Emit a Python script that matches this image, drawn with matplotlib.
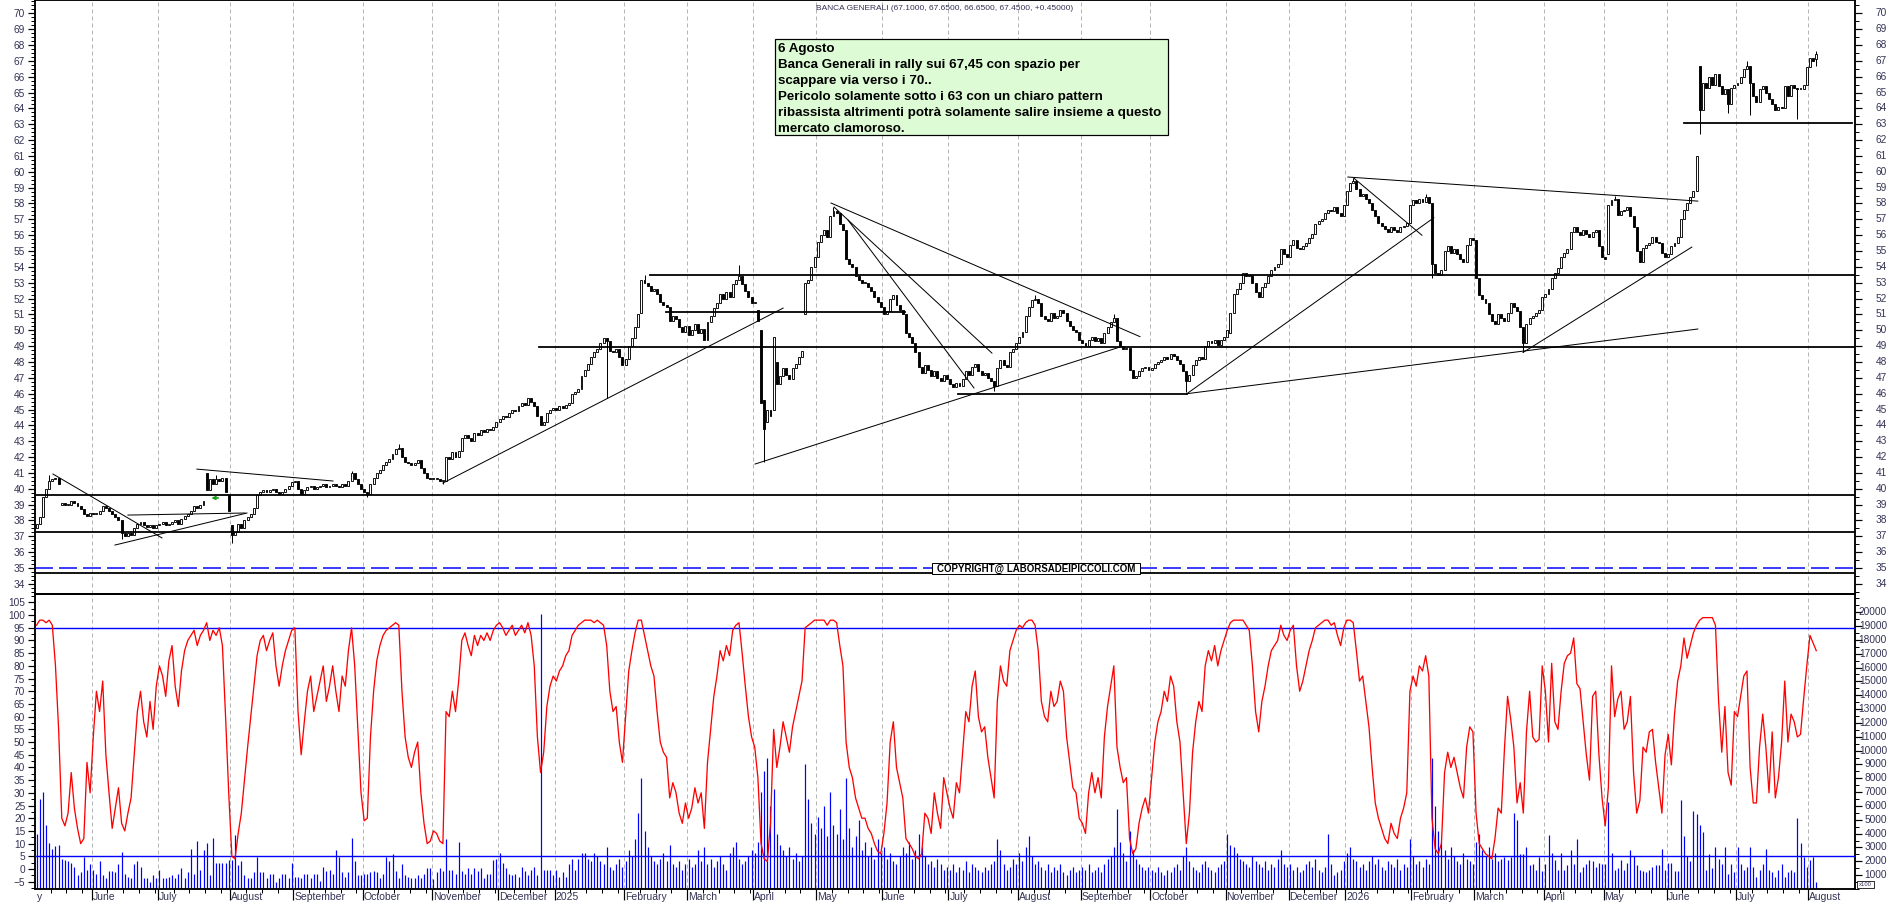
import numpy as np
import matplotlib.pyplot as plt
from matplotlib.patches import Rectangle
from matplotlib.ticker import MultipleLocator, FixedLocator
from matplotlib.transforms import blended_transform_factory

W, H, DPI = 1890, 902, 100
PX = 72.0 / DPI          # one pixel in points

plt.rcParams['font.family'] = ['Liberation Sans', 'DejaVu Sans']

# ---------------------------------------------------------------
# data (one entry per trading day)
# ---------------------------------------------------------------
closes = [
    37.8, 38.2, 39.5, 40.0, 40.5, 40.6, 40.7, 40.3, 39.1, 39.0,
    39.0, 39.2, 39.1, 38.9, 38.7, 38.4, 38.3, 38.5, 38.4, 38.4,
    38.6, 38.9, 38.8, 38.6, 38.4, 38.2, 38.0, 37.2, 37.0, 37.2,
    37.1, 37.5, 37.8, 37.9, 37.7, 37.6, 37.7, 37.5, 37.7, 37.8,
    37.9, 37.7, 37.8, 37.9, 38.0, 37.8, 38.1, 38.3, 38.4, 38.6,
    38.9, 38.8, 39.0, 39.2, 39.9, 40.6, 40.3, 40.6, 40.5, 40.7,
    39.8, 38.6, 37.1, 37.3, 37.8, 37.5, 38.0, 38.2, 38.4, 38.8,
    39.6, 39.8, 39.9, 39.8, 39.9, 40.0, 39.8, 39.7, 39.8, 40.0,
    40.2, 40.4, 40.5, 40.0, 39.7, 39.9, 40.1, 40.2, 40.0, 40.1,
    40.2, 40.3, 40.1, 40.2, 40.3, 40.2, 40.1, 40.3, 40.2, 40.5,
    41.0, 40.6, 40.3, 40.0, 39.8, 39.7, 40.3, 40.7, 41.0, 41.2,
    41.5, 41.7, 41.9, 42.2, 42.5, 42.6, 42.0, 41.7, 41.6, 41.5,
    41.6, 41.8, 41.3, 41.0, 40.7, 40.6, 40.6, 40.6, 40.5, 40.5,
    42.0, 41.9, 42.3, 42.0, 42.4, 43.2, 43.4, 43.2, 43.0, 43.5,
    43.4, 43.7, 43.6, 43.8, 43.7, 43.9, 44.2, 44.4, 44.6, 44.5,
    44.8, 45.0, 44.9, 45.2, 45.4, 45.3, 45.7, 45.5, 45.2, 44.6,
    44.0, 44.2, 44.8, 45.0, 45.1, 45.0, 45.2, 45.1, 45.3, 45.4,
    46.0, 46.1, 46.3, 47.1, 47.5, 47.9, 48.3, 48.6, 48.8, 49.2,
    49.5, 49.3, 48.7, 48.6, 48.8, 48.3, 47.8, 48.2, 49.0, 49.5,
    50.2, 51.0, 53.2, 53.0, 52.8, 52.5, 52.6, 52.3, 51.8, 51.6,
    51.5, 50.6, 50.9, 50.7, 50.2, 49.9, 50.3, 49.7, 50.0, 50.4,
    49.8, 50.1, 49.4, 50.5, 50.9, 51.4, 51.7, 52.3, 52.0, 52.4,
    52.1, 52.9, 53.2, 53.4, 52.9, 52.5, 52.1, 51.7, 51.7, 50.6,
    45.4, 43.8, 45.0, 44.6, 49.6, 46.6, 47.1, 47.6, 47.2, 46.9,
    47.6, 47.9, 48.3, 48.7, 53.0, 53.2, 54.0, 54.6, 55.6, 56.0,
    56.3, 55.9, 57.2, 57.5, 57.4, 56.7, 56.3, 54.5, 54.2, 54.0,
    53.4, 53.2, 53.0, 53.0, 52.7, 52.5, 52.1, 51.8, 51.5, 51.0,
    51.2, 52.0, 52.2, 51.6, 51.3, 51.0, 49.8, 49.6, 49.2, 48.6,
    47.7, 47.3, 47.8, 47.5, 47.1, 47.4, 47.0, 46.8, 47.2, 46.9,
    46.6, 46.4, 46.7, 46.5, 46.9, 47.4, 47.2, 47.7, 47.9, 47.4,
    47.2, 47.3, 47.0, 46.8, 46.5, 47.6, 48.1, 47.8, 47.7, 48.6,
    48.8, 49.2, 49.6, 49.9, 50.9, 51.5, 51.9, 52.0, 51.7, 50.9,
    50.7, 50.6, 51.1, 50.8, 50.9, 51.3, 51.1, 50.6, 50.3, 50.0,
    49.9, 49.4, 49.2, 49.0, 49.4, 49.6, 49.3, 49.5, 49.2, 49.8,
    50.2, 50.5, 50.8, 49.3, 49.0, 48.8, 48.9, 47.5, 47.0, 47.1,
    47.4, 47.6, 47.7, 47.5, 47.6, 47.9, 48.0, 48.1, 48.3, 48.2,
    48.5, 48.4, 48.1, 47.9, 47.4, 46.8, 47.2, 47.8, 48.1, 48.3,
    48.2, 49.0, 49.3, 49.2, 49.4, 49.1, 49.4, 49.6, 50.0, 51.1,
    52.3, 52.6, 53.0, 53.6, 53.4, 53.5, 53.0, 52.4, 52.1, 52.7,
    53.0, 53.4, 53.8, 54.0, 54.2, 55.1, 54.8, 54.6, 55.4, 55.7,
    55.2, 55.1, 55.3, 55.5, 55.8, 56.1, 56.7, 56.9, 57.0, 57.4,
    57.6, 57.5, 57.8, 57.4, 57.2, 57.9, 58.8, 59.3, 59.4, 58.9,
    58.5, 58.6, 58.3, 58.0, 57.6, 57.2, 56.8, 56.6, 56.4, 56.2,
    56.5, 56.3, 56.2, 56.5, 56.6, 56.8, 57.9, 58.2, 58.0, 58.3,
    58.1, 58.4, 58.0, 54.2, 53.6, 53.5, 53.8, 55.0, 55.3, 54.9,
    55.1, 54.8, 54.5, 54.3, 55.4, 55.8, 55.7, 53.3, 52.2, 52.0,
    51.7, 51.0, 50.6, 50.4, 51.0, 50.8, 50.6, 51.1, 51.7, 51.5,
    51.2, 50.2, 49.2, 50.4, 50.8, 50.9, 51.1, 51.3, 52.1, 52.3,
    52.6, 53.3, 53.6, 53.9, 54.6, 54.9, 55.1, 56.2, 56.5, 56.2,
    56.0, 56.3, 56.1, 55.9, 56.2, 56.3, 55.3, 54.6, 54.5, 57.9,
    58.2, 58.3, 57.3, 57.5, 57.6, 57.8, 57.2, 56.5, 55.0, 54.3,
    55.2, 55.4, 55.5, 55.9, 55.6, 55.5, 54.9, 54.6, 54.8, 55.3,
    55.5, 55.9, 57.0, 57.6, 58.0, 58.4, 58.8, 61.0, 63.9, 65.6,
    65.3, 66.0, 65.5, 66.2, 65.4, 64.9, 65.2, 64.3, 65.3, 65.5,
    65.6, 66.0, 66.5, 66.7, 65.6, 64.8, 64.4, 65.2, 65.4, 65.0,
    64.6, 64.3, 63.9, 64.1, 64.0, 65.4, 64.8, 65.5, 65.3, 65.2,
    65.2, 65.5, 66.6, 67.2, 67.0, 67.45,
]
first_open = 37.5
# opens that differ from the previous close (gaps)
gap_open = {8: 39.0, 54: 41.0, 61: 39.6, 62: 37.7, 130: 40.5, 192: 51.1,
            229: 51.3, 230: 50.0, 231: 45.6, 232: 44.2, 234: 45.0, 235: 48.0,
            244: 51.0, 379: 49.8, 443: 58.0, 499: 54.8, 527: 58.8, 528: 66.7,
            565: 67.1}
# visible wicks
wick_hi = {4: 40.9, 54: 41.0, 57: 40.9, 100: 41.1, 115: 42.8, 193: 53.5,
           223: 54.1, 253: 57.8, 317: 52.2, 342: 51.0, 418: 59.6, 441: 58.6,
           501: 58.5, 543: 67.0, 565: 67.65}
wick_lo = {27: 36.8, 62: 36.6, 105: 39.5, 129: 40.3, 181: 45.7, 231: 41.7,
           304: 46.2, 365: 46.1, 443: 53.3, 472: 48.6, 528: 62.4, 537: 63.7,
           544: 63.6, 559: 63.3, 565: 66.65}

# volume, in hundreds of the right-hand scale (which is itself x100)
volume = [
    40, 65, 70, 46, 33, 29, 31, 32, 22, 21,
    20, 19, 16, 10, 12, 23, 14, 18, 14, 11,
    20, 10, 8, 13, 13, 12, 18, 27, 11, 9,
    8, 18, 20, 16, 8, 8, 5, 10, 8, 14,
    8, 8, 9, 10, 8, 11, 15, 8, 12, 29,
    11, 35, 14, 28, 33, 10, 37, 19, 19, 19,
    19, 21, 21, 39, 17, 20, 10, 8, 8, 12,
    23, 12, 12, 8, 11, 11, 5, 8, 11, 11,
    8, 19, 9, 9, 8, 11, 11, 8, 11, 11,
    6, 16, 13, 14, 11, 28, 23, 12, 9, 12,
    37, 20, 10, 10, 11, 11, 12, 13, 12, 8,
    11, 23, 20, 25, 13, 8, 18, 10, 9, 8,
    8, 10, 8, 11, 15, 15, 7, 12, 15, 13,
    36, 14, 14, 11, 34, 13, 11, 15, 11, 15,
    13, 15, 8, 11, 11, 21, 22, 26, 19, 15,
    11, 10, 11, 9, 16, 13, 10, 14, 16, 10,
    199, 14, 14, 14, 10, 14, 9, 12, 9, 18,
    22, 14, 22, 26, 26, 22, 20, 26, 24,
    20, 18, 30, 16, 14, 18, 22, 16,
    20, 28, 24, 36, 55, 80, 42, 30, 24, 20, 18, 22, 26, 20, 32, 18, 16, 20, 14, 18,
    22, 16, 18, 28, 20, 30, 18, 22, 16, 20, 24, 18, 14, 26, 30, 34, 22, 18, 20, 24, 28,
    26, 34, 70, 85, 95, 60, 72, 40, 32, 28, 24, 30, 22, 26, 20, 24, 90, 65, 48, 40,
    52, 44, 60, 38, 70, 46, 40, 58, 36, 80, 44, 30, 38, 50, 28, 34, 24, 30, 22, 36, 26,
    30, 22, 26, 20, 18, 24, 30, 26, 34, 22, 28, 40, 30, 24, 18, 20, 16, 22, 18, 14, 16,
    14, 18, 12, 16, 14, 20, 12, 18, 16, 14, 12, 16, 14, 18, 20, 36, 28, 18, 14, 16, 22, 18,
    26, 20, 30, 38, 24, 18, 20, 16, 14, 18, 12, 16, 14, 18, 12, 10, 14, 16, 12, 14,
    16, 14, 18, 12, 14, 16, 12, 18, 22, 24, 30, 58, 34, 26, 20, 42, 28, 22, 18, 16, 14, 16,
    14, 12, 16, 12, 10, 14, 12, 16, 18, 14, 24, 30, 20, 16, 14, 12, 18, 20, 16, 14, 12, 16, 18, 20,
    40, 32, 30, 26, 22, 20, 18, 16, 24, 20, 18, 16, 20, 14, 18, 16, 22, 28, 18, 16,
    18, 14, 16, 12, 14, 18, 20, 16, 22, 14, 12, 16, 40, 18, 10, 12, 14, 20,
    26, 30, 22, 20, 16, 18, 14, 20, 24, 18, 22, 16, 14, 20, 18, 16, 22, 14, 18, 16, 36,
    24, 18, 20, 16, 22, 18, 95, 60, 42, 34, 28, 22, 30, 24, 20, 18, 26, 22, 20, 18,
    34, 40, 28, 24, 30, 22, 26, 20,
    22, 23, 21, 23, 55, 50, 25, 25, 30, 17, 18, 14, 23, 13, 18, 39, 26, 21, 14, 26,
    14, 17, 28, 18, 36, 12, 16, 18, 21, 20, 16, 19, 18, 18, 63, 26, 14, 15, 21, 14,
    19, 28, 24, 17, 14, 13, 12, 14, 16, 17, 17, 29, 14, 19, 19, 13, 13, 64, 38, 24,
    20, 56, 54, 46, 41, 14, 25, 15, 30, 22, 18, 30, 11, 18, 12, 30, 18, 14, 16, 30,
    16, 9, 14, 18, 29, 14, 12, 9, 14, 18, 9, 12, 14, 12, 51, 33, 23, 16, 21, 23, 5,
]

# red oscillator (left-hand scale)
osc = [
    96, 98, 98, 97, 98, 96, 80, 55, 20, 17,
    22, 38, 24, 16, 10, 12, 42, 30, 52, 70,
    62, 74, 45, 30, 16, 24, 32, 18, 15, 22,
    28, 45, 62, 70, 58, 52, 66, 55, 72, 80,
    76, 68, 82, 88, 72, 64, 78, 86, 90, 92,
    94, 88, 92, 94, 97, 90, 94, 92, 95, 88,
    60, 30, 5, 4, 14, 22, 35, 48, 60, 72,
    84, 90, 92, 86, 90, 93, 80, 72, 80, 86,
    90, 94, 95, 62, 45, 58, 70, 76, 62, 68,
    74, 80, 66, 72, 80, 70, 62, 76, 72, 86,
    95, 80, 55, 30, 19, 20, 52, 70, 82, 88,
    92, 94, 95, 96, 97, 96, 70, 52, 44, 40,
    46, 50, 30, 18, 10, 11, 15, 14, 11, 10,
    62, 60, 70, 62, 74, 90, 93, 88, 84, 92,
    88, 92, 90, 93, 90, 94, 96, 97, 95, 92,
    94, 96, 92, 94, 96, 93, 97, 92, 80, 52,
    38, 46, 64, 72, 76, 74, 78, 80, 84, 86,
    92, 94, 96, 97, 98, 98, 98, 97, 98, 97,
    96, 88, 70, 62, 64, 50, 42, 60, 78, 86,
    93, 98, 98, 92, 86, 80, 76, 62, 50, 46,
    44, 28, 34, 30, 22, 18, 26, 20, 24, 32,
    26, 30, 16, 42, 55, 68, 76, 86, 82, 88,
    84, 94, 96, 97, 85, 72, 60, 52, 48, 36,
    10, 4, 3, 18, 55, 40, 48, 58, 52, 46,
    56, 62, 68, 74, 95, 96, 97, 98, 98, 98,
    98, 96, 98, 98, 97, 88, 80, 50, 40, 36,
    28, 24, 20, 20, 16, 14, 10, 7, 6, 14,
    26, 50, 58, 40, 34, 28, 12, 10, 8, 5,
    4, 6, 22, 20, 14, 30, 22, 16, 36, 30,
    24, 20, 34, 30, 46, 62, 58, 72, 78, 60,
    54, 56, 44, 36, 28, 66, 80, 74, 72, 86,
    90, 94, 96, 95, 97, 98, 98, 96, 86, 66,
    60, 58, 70, 64, 66, 74, 70, 52, 42, 32,
    30, 20, 18, 14, 30, 38, 30, 36, 28, 52,
    64, 72, 80, 48, 40, 34, 36, 12, 6, 8,
    18, 24, 28, 22, 36, 50, 58, 62, 70, 66,
    76, 72, 58, 50, 30, 10, 22, 46, 58, 66,
    62, 80, 86, 82, 88, 80, 86, 90, 94, 97,
    98, 98, 98, 98, 96, 94, 80, 62, 54, 66,
    72, 80, 86, 88, 90, 96, 92, 90, 94, 96,
    80, 70, 74, 80, 86, 90, 95, 96, 97, 98,
    98, 96, 97, 92, 88, 95, 98, 98, 97, 86,
    74, 76, 66, 56, 40, 26, 20, 16, 12, 10,
    18, 14, 12, 20, 24, 30, 70, 76, 72, 80,
    78, 84, 76, 20, 8, 6, 10, 38, 46, 40,
    44, 38, 32, 28, 48, 56, 54, 22, 10, 8,
    6, 5, 4, 12, 24,
    22, 47, 68, 59, 48, 26, 34, 22, 54, 70,
    52, 50, 51, 80, 70, 50, 81, 58, 55, 70,
    81, 84, 85, 91, 73, 71, 58, 45, 35, 68,
    70, 45, 28, 17, 32, 80, 60, 67, 70, 55,
    58, 68, 38, 22, 27, 48, 46, 54, 55, 42,
    32, 22, 45, 53, 41, 61, 74, 80, 91, 83,
    88, 93, 96, 98, 99, 99, 99, 99, 96, 66,
    46, 64, 38, 33, 62, 60, 68, 76, 78, 40,
    26, 26, 48, 61, 48, 30, 54, 28, 36, 50,
    74, 50, 61, 58, 52, 53, 67, 80, 92, 89,
    86,
]
osc_levels = [95, 5]

# first trading day of each month
month_start = [18, 39, 62, 82, 104, 126, 147, 165, 187, 207, 228, 248, 269, 290,
               312, 332, 354, 378, 398, 416, 437, 457, 479, 498, 518, 540, 563]
month_label = ['June', 'July', 'August', 'September', 'October', 'November',
               'December', '2025', 'February', 'March', 'April', 'May', 'June',
               'July', 'August', 'September', 'October', 'November', 'December',
               '2026', 'February', 'March', 'April', 'May', 'June', 'July', 'August']

# drawn support / resistance lines: (day, price) pairs
trend_lines = [
    ((5.2, 40.93), (39.8, 36.90)),
    ((24.9, 36.45), (66.8, 38.47)),
    ((29.0, 38.34), (66.2, 38.47)),
    ((50.9, 41.24), (94.1, 40.49)),
    ((129.0, 40.36), (237.0, 51.40)),
    ((228.1, 41.56), (343.9, 48.94)),
    ((252.2, 58.03), (350.3, 49.60)),
    ((253.2, 57.77), (303.3, 48.56)),
    ((257.6, 56.96), (297.6, 46.36)),
    ((365.2, 46.00), (527.4, 50.08)),
    ((365.2, 46.00), (443.6, 57.10)),
    ((418.2, 59.60), (439.8, 56.00)),
    ((416.3, 59.67), (527.4, 58.15)),
    ((471.9, 48.60), (525.5, 55.25)),
]
# horizontal levels: (price, from day, to day)
h_levels = [
    (39.6, -0.5, 577.3), (37.3, -0.5, 577.3), (34.7, -0.5, 577.3),
    (48.94, 159.5, 577.3), (53.49, 194.7, 577.3), (51.15, 199.8, 275.7),
    (46.0, 292.5, 365.2), (63.07, 523.0, 576.3),
]

price_ticks = list(range(34, 71))
osc_ticks = list(range(-5, 106, 5))
vol_ticks = list(range(1000, 20001, 1000))

title = 'BANCA GENERALI (67.1000, 67.6500, 66.6500, 67.4500, +0.45000)'
note = ['6 Agosto',
        'Banca Generali in rally sui 67,45 con spazio per',
        'scappare via verso i 70..',
        'Pericolo solamente sotto i 63 con un chiaro pattern',
        'ribassista altrimenti potrà solamente salire insieme a questo',
        'mercato clamoroso.']

# ---------------------------------------------------------------
n = len(closes)
days = np.arange(n)
c = np.array(closes)
o = np.array([first_open] + closes[:-1])
for k, v in gap_open.items():
    o[k] = v

XMIN, XMAX = -0.5, 577.3
LBL = '#333355'
RLAB_X = 1887 / W      # right-hand labels are right-aligned here

fig = plt.figure(figsize=(W / DPI, H / DPI), dpi=DPI)
L, R = 35 / W, 1855 / W
ax = fig.add_axes([L, 1 - 594 / H, R - L, 594 / H])
axv = fig.add_axes([L, 1 - 889 / H, R - L, (889 - 594) / H])

for a in (ax, axv):
    a.set_xlim(XMIN, XMAX)
    for s in a.spines.values():
        s.set_linewidth(1.5 * PX)
    for m in month_start:
        a.axvline(m - 0.5, color='#b4b4b4', lw=1.0 * PX, dashes=(4, 3), zorder=0)


def style_y(a, minor_step, labels=True):
    a.yaxis.set_minor_locator(MultipleLocator(minor_step))
    a.tick_params(axis='y', which='major', direction='out', length=7 * PX,
                  width=1.2 * PX, labelsize=7.3, labelcolor=LBL, pad=2,
                  labelleft=labels, labelright=False)
    a.tick_params(axis='y', which='minor', direction='out', length=4 * PX,
                  width=1.0 * PX)


def right_labels(a, ticks, fmt):
    tr = blended_transform_factory(fig.transFigure, a.transData)
    for t in ticks:
        fig.text(RLAB_X, 0, fmt(t), transform=tr, ha='right', va='center',
                 fontsize=7.3, color=LBL).set_y(t)


# ---------------- price panel ----------------
ax.set_ylim(33.36, 70.84)
ax.set_xticks([])
up = c >= o
body_lo = np.minimum(o, c)
body_h = np.maximum(np.abs(c - o), 0.06)
for k in wick_hi:
    ax.vlines(k, max(o[k], c[k]), wick_hi[k], color='black', lw=1.0 * PX, zorder=2)
for k in wick_lo:
    ax.vlines(k, wick_lo[k], min(o[k], c[k]), color='black', lw=1.0 * PX, zorder=2)
ax.bar(days[up], body_h[up], bottom=body_lo[up], width=0.62, color='white',
       edgecolor='black', linewidth=0.9 * PX, zorder=3)
ax.bar(days[~up], body_h[~up], bottom=body_lo[~up], width=0.62, color='black',
       edgecolor='black', linewidth=0.9 * PX, zorder=3)

for (x0, y0), (x1, y1) in trend_lines:
    ax.plot([x0, x1], [y0, y1], color='black', lw=1.0 * PX, zorder=4)
for lev, x0, x1 in h_levels:
    ax.plot([x0, x1], [lev, lev], color='black', lw=1.8 * PX, zorder=4)
ax.axhline(35, color='blue', lw=1.5 * PX, dashes=(12, 4), zorder=4)

ax.annotate('', xy=(54.6, 39.42), xytext=(58.6, 39.42),
            arrowprops=dict(arrowstyle='-|>', color='#1a9a1a', lw=1.6 * PX,
                            mutation_scale=5), zorder=5)

ax.set_yticks(price_ticks)
style_y(ax, 0.25)
axr = ax.twinx()
axr.set_ylim(ax.get_ylim())
axr.set_yticks(price_ticks)
axr.yaxis.set_minor_locator(MultipleLocator(0.5))
axr.tick_params(axis='y', which='major', direction='out', length=7 * PX,
                width=1.2 * PX, labelright=False)
axr.tick_params(axis='y', which='minor', direction='out', length=4 * PX,
                width=1.0 * PX)
for s in axr.spines.values():
    s.set_linewidth(1.5 * PX)
right_labels(axr, price_ticks, str)

# ---------------- oscillator / volume panel ----------------
axv.set_ylim(-7.87, 108.3)
axvr = axv.twinx()
axvr.set_ylim(0, 21315)
axvr.vlines(days, 0, np.array(volume) * 100, color='blue', lw=1.2 * PX, zorder=2)
for lev in osc_levels:
    axv.axhline(lev, color='blue', lw=1.4 * PX, zorder=3)
axv.set_zorder(axvr.get_zorder() + 1)
axv.patch.set_visible(False)
axv.plot(days, osc, color='red', lw=1.3 * PX, zorder=4)

axv.set_yticks(osc_ticks)
style_y(axv, 2.5)
axvr.set_yticks(vol_ticks)
axvr.yaxis.set_minor_locator(MultipleLocator(500))
axvr.tick_params(axis='y', which='major', direction='out', length=7 * PX,
                 width=1.2 * PX, labelright=False)
axvr.tick_params(axis='y', which='minor', direction='out', length=4 * PX,
                 width=1.0 * PX)
for s in axvr.spines.values():
    s.set_linewidth(1.5 * PX)
right_labels(axvr, vol_ticks, str)

# x axis: month ticks, weekly minor ticks, left-aligned labels
axv.set_xticks([m - 0.5 for m in month_start])
axv.set_xticklabels([])
minor = []
bounds = [0] + month_start + [n]
for a0, a1 in zip(bounds[:-1], bounds[1:]):
    minor += [a0 + k - 0.5 for k in range(5, a1 - a0, 5)]
axv.xaxis.set_minor_locator(FixedLocator(minor))
axv.tick_params(axis='x', which='major', direction='out', length=11 * PX,
                width=1.2 * PX)
axv.tick_params(axis='x', which='minor', direction='out', length=4 * PX,
                width=1.0 * PX)
tr = blended_transform_factory(axv.transData, axv.transAxes)
for m, lab in zip(month_start, month_label):
    axv.text(m - 0.2, -0.028, lab, transform=tr, ha='left', va='center',
             fontsize=7.5, color=LBL, clip_on=False)
fig.text(37 / W, 1 - 897 / H, 'y', ha='left', va='center', fontsize=7.5, color=LBL)

# box with the unit of the volume scale
fig.patches.append(Rectangle((1857 / W, 1 - 888 / H), 17 / W, 7 / H,
                             transform=fig.transFigure, facecolor='white',
                             edgecolor='black', lw=0.8 * PX))
fig.text(1865.5 / W, 1 - 884.5 / H, 'x100', ha='center', va='center',
         fontsize=4.2, color=LBL)

# ---------------- texts ----------------
fig.text(816 / W, 1 - 8 / H, title, ha='left', va='center', fontsize=6,
         color=LBL)

fig.patches.append(Rectangle((775 / W, 1 - 135 / H), (1168 - 775) / W, 96 / H,
                             transform=fig.transFigure, facecolor='#ddfbd4',
                             edgecolor='black', lw=1.2 * PX, zorder=5))
for k, line in enumerate(note):
    fig.text(778 / W, 1 - (52 + 16 * k) / H, line, ha='left', va='baseline',
             fontsize=9.6, fontweight='bold', color='black', zorder=6)

fig.patches.append(Rectangle((932 / W, 1 - 574 / H), 208 / W, 11 / H,
                             transform=fig.transFigure, facecolor='white',
                             edgecolor='black', lw=1.0 * PX, zorder=5))
fig.text(1036 / W, 1 - 568.7 / H, 'COPYRIGHT@ LABORSADEIPICCOLI.COM', ha='center',
         va='center', fontsize=7, fontweight='bold', color='black', zorder=6)

fig.savefig('out.png', dpi=DPI, facecolor='white')
